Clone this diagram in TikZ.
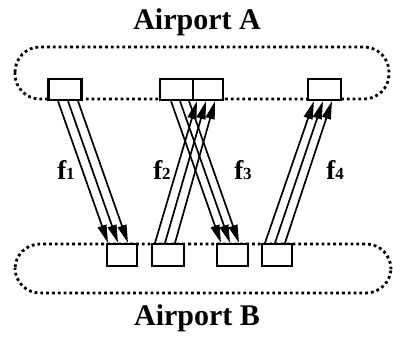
\documentclass[tikz,border=0pt]{standalone}
\usepackage{fontspec}
\setmainfont{Liberation Serif}
\usetikzlibrary{arrows.meta}
\begin{document}
\begin{tikzpicture}[x=1pt,y=-1pt,
  gate/.style={draw,line width=2.2pt,fill=white},
  zone/.style={line width=2.8pt,dash pattern=on 2.8pt off 3pt},
  flow/.style={line width=1.7pt,-{Triangle[length=18pt,width=9pt]}},
  title/.style={font=\bfseries\fontsize{30}{31}\selectfont},
  flab/.style={font=\bfseries}]
\useasboundingbox (0,0) rectangle (393,338);
% zones
\draw[zone,rounded corners=25pt] (15,47) rectangle (389,99);
\draw[zone,rounded corners=25pt] (15,244) rectangle (391,293);
% titles
\node[title] (tA) at (197,22) {Airport A};
\node[title] (tB) at (197,318) {Airport B};
% gates at A
\node[gate,minimum width=33pt,minimum height=21pt,inner sep=0pt] (a1) at (65,89.5) {};
\node[gate,minimum width=33pt,minimum height=21pt,inner sep=0pt] (a2) at (176.5,89.5) {};
\node[gate,minimum width=30pt,minimum height=21pt,inner sep=0pt] (a3) at (208,89.5) {};
\node[gate,minimum width=33pt,minimum height=21pt,inner sep=0pt] (a4) at (324.5,89.5) {};
% gates at B
\node[gate,minimum width=30pt,minimum height=22pt,inner sep=0pt] (b1) at (122,255) {};
\node[gate,minimum width=32pt,minimum height=22pt,inner sep=0pt] (b2) at (168,255) {};
\node[gate,minimum width=31pt,minimum height=22pt,inner sep=0pt] (b3) at (232.5,255) {};
\node[gate,minimum width=30pt,minimum height=22pt,inner sep=0pt] (b4) at (277,255) {};
% f1
\draw[flow] ([xshift=-7pt]a1.south) -- ([xshift=-14pt]b1.north);
\draw[flow] ([xshift=3pt]a1.south) -- ([xshift=-4pt]b1.north);
\draw[flow] ([xshift=13pt]a1.south) -- ([xshift=6pt]b1.north);
% f2
\draw[flow] ([xshift=-13pt]b2.north) -- ([xshift=-11pt]a3.south);
\draw[flow] ([xshift=-3pt]b2.north) -- ([xshift=-2pt]a3.south);
\draw[flow] ([xshift=7pt]b2.north) -- ([xshift=7pt]a3.south);
% f3
\draw[flow] ([xshift=-5.5pt]a2.south) -- ([xshift=-11.5pt]b3.north);
\draw[flow] ([xshift=3.5pt]a2.south) -- ([xshift=-2.5pt]b3.north);
\draw[flow] ([xshift=12.5pt]a2.south) -- ([xshift=6.5pt]b3.north);
% f4
\draw[flow] ([xshift=-12pt]b4.north) -- ([xshift=-10.5pt]a4.south);
\draw[flow] ([xshift=-2pt]b4.north) -- ([xshift=-1.5pt]a4.south);
\draw[flow] ([xshift=8pt]b4.north) -- ([xshift=7.5pt]a4.south);
% labels
\node[flab] (l1) at (66,170) {{\fontsize{27}{28}\selectfont f}{\fontsize{17}{18}\selectfont 1}};
\node[flab] (l2) at (162,170) {{\fontsize{27}{28}\selectfont f}{\fontsize{17}{18}\selectfont 2}};
\node[flab] (l3) at (243,170) {{\fontsize{27}{28}\selectfont f}{\fontsize{17}{18}\selectfont 3}};
\node[flab] (l4) at (335,170) {{\fontsize{27}{28}\selectfont f}{\fontsize{17}{18}\selectfont 4}};
\end{tikzpicture}
\end{document}
